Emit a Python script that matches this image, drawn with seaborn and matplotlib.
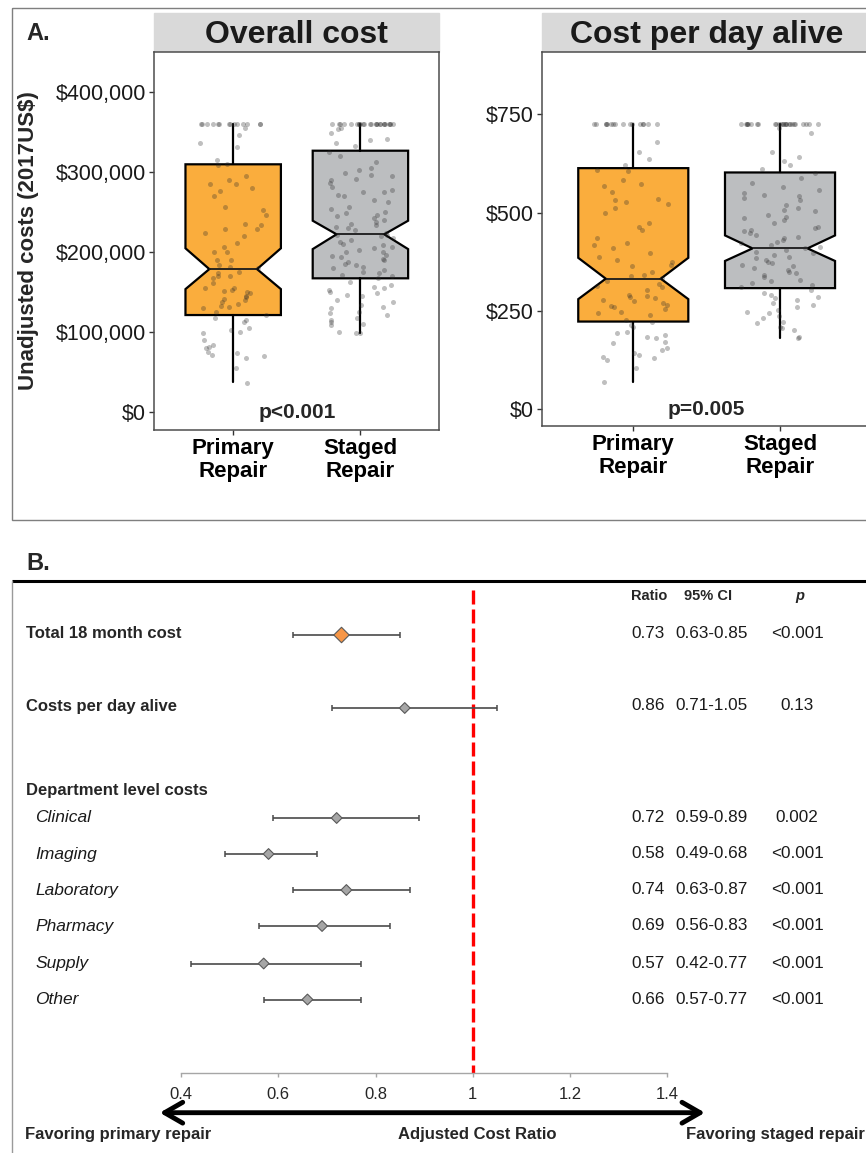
import numpy as np
import pandas as pd
import matplotlib
matplotlib.use("Agg")
import matplotlib.pyplot as plt
import matplotlib.patches as patches
from matplotlib.ticker import FuncFormatter
import seaborn as sns

# ---------------- data: panel A (box plots) ----------------
groups = ["Primary Repair", "Staged Repair"]
group_ticklabels = ["Primary\nRepair", "Staged\nRepair"]

# box summaries (Primary, Staged)
overall_q1 = [121600, 167500]
overall_med = [179000, 222500]
overall_q3 = [310000, 327000]
overall_notch_lo = [154000, 204000]
overall_notch_hi = [205000, 239500]
overall_whislo = [38000, 99000]
overall_whishi = [361000, 361000]

perday_q1 = [223, 308]
perday_med = [332, 409]
perday_q3 = [613, 602]
perday_notch_lo = [280, 377]
perday_notch_hi = [385, 442]
perday_whislo = [70, 180]
perday_whishi = [725, 725]

# individual patients
overall_primary = [
    361000, 361000, 361000, 361000, 361000, 361000, 361000, 361000, 361000, 361000,
    361000, 361000, 361000, 361000,
    355000, 347000, 337000, 332000, 316000, 310000, 309000, 295000, 291000, 286000,
    285000, 280000, 277000, 270000, 257000, 253000, 247000, 235000, 234000, 229000,
    229000, 224000, 220000, 212000, 207000, 201000, 200000, 191000, 190000, 184000,
    182000, 180000, 176000, 174000, 170000, 170000, 168000, 162000, 156000, 155000,
    153000, 152000, 150000, 149000, 145000, 144000, 142000, 140000, 138000, 136000,
    133000, 132000, 130000, 126000, 122000, 118000, 115000, 113000, 106000, 103000,
    101000, 99000, 90000, 84000, 82000, 80000, 76000, 74000, 72000, 70000,
    68000, 55000, 37000,
]
overall_staged = [
    361000, 361000, 361000, 361000, 361000, 361000, 361000, 361000, 361000, 361000,
    361000, 361000, 361000, 361000, 361000, 361000, 361000, 361000, 361000, 361000,
    361000, 361000, 361000, 361000, 361000,
    356000, 354000, 349000, 342000, 340000, 337000, 333000, 326000, 320000, 313000,
    305000, 303000, 299000, 297000, 295000, 292000, 290000, 287000, 282000, 278000,
    276000, 275000, 272000, 270000, 265000, 263000, 257000, 254000, 251000, 249000,
    247000, 245000, 243000, 240000, 238000, 236000, 234000, 232000, 230000, 228000,
    224000, 222000, 222000, 220000, 218000, 215000, 213000, 211000, 209000, 207000,
    205000, 203000, 201000, 200000, 197000, 195000, 194000, 192000, 190000, 188000,
    186000, 184000, 182000, 180000, 178000, 176000, 174000, 172000, 170000, 168000,
    163000, 159000, 157000, 155000, 153000, 151000, 149000, 147000, 145000, 140000,
    138000, 134000, 132000, 130000, 126000, 124000, 122000, 118000, 115000, 113000,
    111000, 109000, 101000, 99000, 99000,
]
perday_primary = [
    725, 725, 725, 725, 725, 725, 725, 725, 725, 725, 725, 725, 725, 725, 725, 725,
    680, 653, 636, 621, 609, 605, 583, 572, 568, 553, 534, 532, 528, 522, 511, 498,
    473, 464, 456, 435, 422, 418, 409, 397, 388, 380, 375, 367, 363, 350, 341, 339,
    333, 325, 319, 314, 312, 303, 291, 288, 285, 282, 278, 274, 270, 265, 263, 259,
    254, 248, 244, 240, 227, 223, 214, 210, 197, 193, 189, 185, 181, 172, 168, 155,
    150, 142, 138, 134, 130, 125, 104, 70,
]
perday_staged = [
    725, 725, 725, 725, 725, 725, 725, 725, 725, 725, 725, 725, 725, 725, 725, 725,
    725, 725, 725, 725, 725, 725, 725, 725, 725, 725,
    714, 703, 653, 642, 630, 621, 612, 600, 587, 576, 566, 558, 549, 544, 541, 536,
    532, 519, 511, 507, 503, 494, 490, 486, 481, 473, 464, 460, 456, 452, 447, 443,
    439, 435, 431, 426, 422, 418, 412, 409, 405, 401, 397, 392, 388, 384, 380, 375,
    371, 367, 363, 358, 354, 350, 346, 341, 337, 329, 325, 320, 316, 310, 303, 295,
    291, 286, 282, 278, 269, 265, 261, 253, 248, 244, 237, 231, 223, 219, 210, 206,
    202, 185, 181,
]
overall_p = "p<0.001"
perday_p = "p=0.005"

# ---------------- data: panel B (forest plot) ----------------
forest_labels = ["Total 18 month cost", "Costs per day alive", "Clinical", "Imaging",
                 "Laboratory", "Pharmacy", "Supply", "Other"]
forest_ratio = [0.73, 0.86, 0.72, 0.58, 0.74, 0.69, 0.57, 0.66]
forest_lo = [0.63, 0.71, 0.59, 0.49, 0.63, 0.56, 0.42, 0.57]
forest_hi = [0.85, 1.05, 0.89, 0.68, 0.87, 0.83, 0.77, 0.77]
forest_p = ["<0.001", "0.13", "0.002", "<0.001", "<0.001", "<0.001", "<0.001", "<0.001"]
forest_kind = ["main", "other", "other", "other", "other", "other", "other", "other"]
ratio_ticks = [0.4, 0.6, 0.8, 1.0, 1.2, 1.4]

# ---------------- layout (figure pixels) ----------------
W, H = 866, 1153
row_y = [635, 708, 818, 854, 890, 926, 963.5, 999.5]
dept_header_y = 790

sns.set_theme(style="white")
plt.rcParams["font.family"] = ["Liberation Sans", "DejaVu Sans"]
np.random.seed(3)

ORANGE = "#FAAD3D"
GREY = "#BCBEC0"
FRAME = "#4d4d4d"

fig = plt.figure(figsize=(W / 100, H / 100), dpi=100)

# background axes in pixel coordinates for frames and free text
bg = fig.add_axes([0, 0, 1, 1])
bg.set_xlim(0, W)
bg.set_ylim(H, 0)
bg.axis("off")


def px_axes(x0, y0, x1, y1):
    return fig.add_axes([x0 / W, 1 - y1 / H, (x1 - x0) / W, (y1 - y0) / H])


def box_panel(ax, q1, med, q3, nlo, nhi, wlo, whi, pts_a, pts_b, fmt, pval):
    stats = []
    for i in range(2):
        stats.append(dict(med=med[i], q1=q1[i], q3=q3[i], cilo=nlo[i], cihi=nhi[i],
                          whislo=wlo[i], whishi=whi[i], fliers=[], label=groups[i]))
    bp = ax.bxp(stats, positions=[0, 1], widths=0.75, shownotches=True,
                showcaps=False, showfliers=False, patch_artist=True,
                boxprops=dict(edgecolor="black", linewidth=1.6),
                whiskerprops=dict(color="black", linewidth=1.6),
                medianprops=dict(color="#1a1a1a", linewidth=1.3))
    for patch, col in zip(bp["boxes"], [ORANGE, GREY]):
        patch.set_facecolor(col)
    df = pd.DataFrame({
        "group": [groups[0]] * len(pts_a) + [groups[1]] * len(pts_b),
        "value": list(pts_a) + list(pts_b),
    })
    sns.stripplot(data=df, x="group", y="value", order=groups, jitter=0.27,
                  color="#2b2b2b", alpha=0.3, size=3.6, linewidth=0, ax=ax, zorder=5)
    ax.set_xlim(-0.62, 1.62)
    ax.set_xticks([0, 1])
    ax.set_xticklabels(group_ticklabels, fontsize=16, fontweight="bold", linespacing=1.12)
    ax.yaxis.set_major_formatter(FuncFormatter(fmt))
    ax.tick_params(axis="both", direction="out", length=3.5, width=1, color="#333333",
                   left=True, bottom=True, pad=2.5)
    ax.tick_params(axis="y", labelsize=15.5, labelcolor="#1a1a1a")
    ax.tick_params(axis="x", labelcolor="black")
    ax.set_xlabel("")
    ax.set_ylabel("")
    for s in ax.spines.values():
        s.set_visible(True)
        s.set_color(FRAME)
        s.set_linewidth(1.1)
    ax.text(0.5, 0, pval, ha="center", va="center", fontsize=15, fontweight="bold",
            zorder=6)


# ---------------- panel A ----------------
bg.add_patch(patches.Rectangle((12, 8), 870, 512, fill=False, edgecolor="#7f7f7f", lw=1))
bg.text(26, 39.5, "A.", fontsize=17, fontweight="bold", ha="left", va="baseline")

ax1 = px_axes(154.3, 51.7, 439.3, 430)
box_panel(ax1, overall_q1, overall_med, overall_q3, overall_notch_lo, overall_notch_hi,
          overall_whislo, overall_whishi, overall_primary, overall_staged,
          lambda v, _: f"\\${v:,.0f}", overall_p)
ax1.set_ylim(-22100, 450750)
ax1.set_yticks([0, 100000, 200000, 300000, 400000])
ax1.set_ylabel("Unadjusted costs (2017US\\$)", fontsize=16, fontweight="bold")
ax1.yaxis.set_label_coords((28.3 - 154.3) / (439.3 - 154.3), (430 - 240.7) / (430 - 51.7))
ax1.yaxis.label.set_va("center")

ax2 = px_axes(542.3, 51.7, 871, 426)
box_panel(ax2, perday_q1, perday_med, perday_q3, perday_notch_lo, perday_notch_hi,
          perday_whislo, perday_whishi, perday_primary, perday_staged,
          lambda v, _: f"\\${v:,.0f}", perday_p)
ax2.set_ylim(-42.5, 909)
ax2.set_yticks([0, 250, 500, 750])

# facet strips
for (x0, x1), title in [((154.3, 439.3), "Overall cost"), ((542.3, 871), "Cost per day alive")]:
    bg.add_patch(patches.Rectangle((x0, 13.3), x1 - x0, 38.4, facecolor="#d9d9d9",
                                   edgecolor="#d9d9d9", lw=1))
    bg.text((x0 + x1) / 2, 43.3, title, fontsize=23, fontweight="bold", ha="center",
            va="baseline", color="#1a1a1a")

# ---------------- panel B ----------------
bg.text(26.5, 570, "B.", fontsize=17, fontweight="bold", ha="left", va="baseline")
bg.plot([12, W], [581, 581], color="black", lw=2.2, solid_capstyle="butt")
bg.plot([12, 12], [581, H], color="#9a9a9a", lw=1)

axB = px_axes(181, 581, 667.4, 1073.3)
axB.set_xlim(0.4, 1.4)
axB.set_ylim(1073.3, 581)
for side in ["top", "left", "right"]:
    axB.spines[side].set_visible(False)
axB.spines["bottom"].set_color("#a6a6a6")
axB.spines["bottom"].set_linewidth(1)
axB.patch.set_alpha(0)
axB.set_yticks([])
axB.set_xticks(ratio_ticks)
axB.set_xticklabels([f"{t:g}" for t in ratio_ticks])
axB.tick_params(axis="x", direction="out", length=3, width=1, color="#a6a6a6",
                labelsize=12, labelcolor="#262626", pad=7, bottom=True)

axB.plot([1, 1], [590, 1073.3], color="#ff0000", lw=2.4, dashes=(4.2, 1.5), zorder=1)

lo_err = [r - l for r, l in zip(forest_ratio, forest_lo)]
hi_err = [h - r for r, h in zip(forest_ratio, forest_hi)]
axB.errorbar(forest_ratio, row_y, xerr=[lo_err, hi_err], fmt="none", ecolor="#4a4a4a",
             elinewidth=1.2, capsize=2.3, capthick=1.1, zorder=2)
forest_df = pd.DataFrame({"ratio": forest_ratio, "y": row_y, "kind": forest_kind})
sns.scatterplot(data=forest_df, x="ratio", y="y", hue="kind", size="kind",
                palette={"main": "#F79646", "other": "#A6A6A6"},
                sizes={"main": 62, "other": 30}, marker="D", edgecolor="#595959",
                linewidth=0.8, legend=False, ax=axB, zorder=3)
axB.set_xlabel("")
axB.set_ylabel("")

# row labels
for i, (lab, y) in enumerate(zip(forest_labels, row_y)):
    if i < 2:
        bg.text(26, y - 2, lab, fontsize=12, fontweight="bold", ha="left", va="center")
    else:
        bg.text(35, y, lab, fontsize=12.5, fontstyle="italic", ha="left", va="center",
                color="#1a1a1a")
bg.text(26, dept_header_y, "Department level costs", fontsize=12, fontweight="bold",
        ha="left", va="center")

# table on the right
bg.text(631.5, 596, "Ratio", fontsize=10.5, fontweight="bold", ha="left", va="center")
bg.text(683.5, 596, "95% CI", fontsize=10.5, fontweight="bold", ha="left", va="center")
bg.text(800, 596, "p", fontsize=10.5, fontweight="bold", fontstyle="italic", ha="center",
        va="center")
for r, l, h, p, y in zip(forest_ratio, forest_lo, forest_hi, forest_p, row_y):
    ty = y - 2 if y < 720 else y
    bg.text(631.5, ty, f"{r:.2f}", fontsize=12.3, ha="left", va="center", color="#1a1a1a")
    bg.text(675, ty, f"{l:.2f}-{h:.2f}", fontsize=12.3, ha="left", va="center", color="#1a1a1a")
    bg.text(797, ty, p, fontsize=12.3, ha="center", va="center", color="#1a1a1a")

# direction arrow and captions
bg.add_patch(patches.FancyArrowPatch((157, 1112.7), (707.7, 1112.7),
                                     arrowstyle="<->,head_length=1.3,head_width=0.75",
                                     mutation_scale=10, lw=3.5, color="black"))
bg.text(25, 1134, "Favoring primary repair", fontsize=12, fontweight="bold",
        ha="left", va="center")
bg.text(477, 1134, "Adjusted Cost Ratio", fontsize=12, fontweight="bold",
        ha="center", va="center")
bg.text(685.5, 1134, "Favoring staged repair", fontsize=12, fontweight="bold",
        ha="left", va="center")

fig.savefig("out.png", dpi=100)
